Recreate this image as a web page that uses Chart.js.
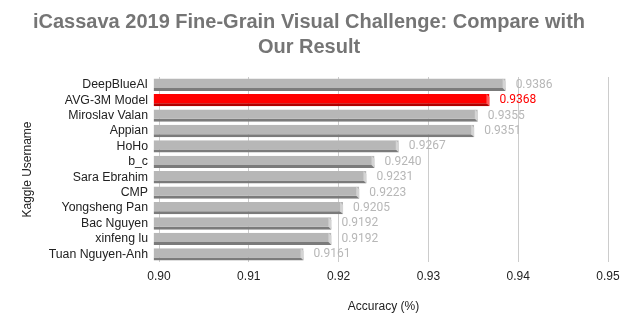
<!DOCTYPE html>
<html>
<head>
<meta charset="utf-8">
<script src="https://cdn.jsdelivr.net/npm/chart.js@4/dist/chart.umd.min.js"></script>
<style>
html,body{margin:0;padding:0;background:#fff;}
#wrap{width:625px;height:332px;}
</style>
</head>
<body>
<div id="wrap"><canvas id="c" width="625" height="332"></canvas></div>
<script>
const categories = ["DeepBlueAI","AVG-3M Model","Miroslav Valan","Appian","HoHo","b_c","Sara Ebrahim","CMP","Yongsheng Pan","Bac Nguyen","xinfeng lu","Tuan Nguyen-Anh"];
const accuracy = [0.9386,0.9368,0.9355,0.9351,0.9267,0.9240,0.9231,0.9223,0.9205,0.9192,0.9192,0.9161];
const xTicks = [0.90,0.91,0.92,0.93,0.94,0.95];
const highlight = "AVG-3M Model";

const isHi = categories.map(c => c === highlight);
const faceColors = isHi.map(h => h ? "#ff0000" : "#b7b7b7");
const shadeColors = isHi.map(h => h ? "#b00000" : "#7b7b7b");
const bevelColors = isHi.map(h => h ? "#ff5a5a" : "#d4d4d4");
const labelColors = isHi.map(h => h ? "#ff0000" : "#b7b7b7");

const barDecor = {
  id: "barDecor",
  afterDatasetsDraw(chart) {
    const ctx = chart.ctx;
    const meta = chart.getDatasetMeta(0);
    ctx.save();
    meta.data.forEach((el, i) => {
      const top = el.y - el.height / 2;
      const bot = el.y + el.height / 2;
      ctx.fillStyle = bevelColors[i];
      ctx.beginPath();
      ctx.moveTo(el.x - 3, top);
      ctx.lineTo(el.x, top + 3);
      ctx.lineTo(el.x, bot);
      ctx.lineTo(el.x - 3, bot - 3);
      ctx.closePath();
      ctx.fill();
      ctx.font = "12px Roboto";
      ctx.fillStyle = labelColors[i];
      ctx.textAlign = "left";
      ctx.textBaseline = "middle";
      ctx.fillText(accuracy[i].toFixed(4), el.x + 10, el.y);
    });
    ctx.restore();
  }
};

new Chart(document.getElementById("c"), {
  type: "bar",
  data: {
    labels: categories,
    datasets: [{
      data: accuracy,
      backgroundColor: faceColors,
      borderColor: shadeColors,
      borderWidth: {top: 0, right: 0, bottom: 3, left: 0},
      borderSkipped: false,
      base: 0.8994,
      clip: false,
      barPercentage: 0.8,
      categoryPercentage: 1.0
    }]
  },
  options: {
    indexAxis: "y",
    responsive: false,
    animation: false,
    devicePixelRatio: 1,
    layout: {padding: {left: 10, right: 17, top: 10, bottom: 10}},
    plugins: {
      legend: {display: false},
      tooltip: {enabled: false},
      title: {
        display: true,
        text: ["iCassava 2019 Fine-Grain Visual Challenge: Compare with", "Our Result"],
        color: "#757575",
        font: {family: "Liberation Sans", size: 20, weight: "bold", lineHeight: 1.25},
        padding: {top: 0, bottom: 17}
      }
    },
    scales: {
      x: {
        min: 0.90,
        max: 0.95,
        afterBuildTicks(scale) { scale.ticks = xTicks.map(v => ({value: v})); },
        afterFit(scale) { scale.height = 60; scale.paddingRight = 0; scale.paddingLeft = 0; },
        grid: {color: "#cccccc", drawTicks: false},
        border: {display: false},
        ticks: {
          padding: 7,
          color: "#222222",
          font: {family: "Liberation Sans", size: 12},
          callback: v => Number(v).toFixed(2)
        },
        title: {
          display: true,
          text: "Accuracy (%)",
          color: "#222222",
          font: {family: "Liberation Sans", size: 12},
          padding: {top: 0, bottom: 8}
        }
      },
      y: {
        afterFit(scale) { scale.width = 149; },
        grid: {display: false, drawTicks: false},
        border: {display: false},
        ticks: {
          autoSkip: false,
          padding: 11,
          color: "#222222",
          font: {family: "Liberation Sans", size: 12.3}
        },
        title: {
          display: true,
          text: "Kaggle Username",
          color: "#222222",
          font: {family: "Liberation Sans", size: 12},
          padding: {top: 10, bottom: 0}
        }
      }
    }
  },
  plugins: [barDecor]
});
</script>
</body>
</html>
